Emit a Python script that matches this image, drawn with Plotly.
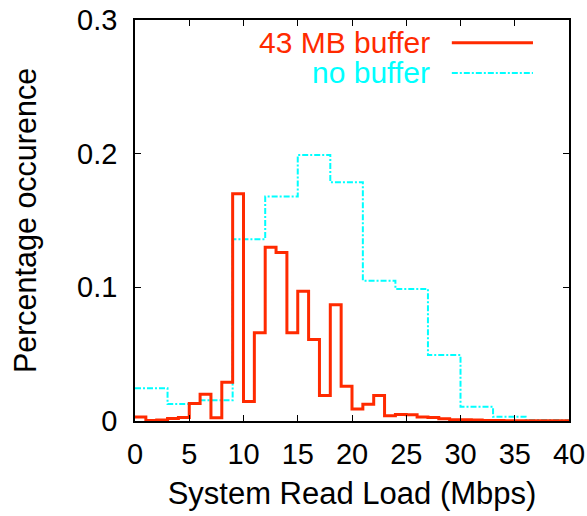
import plotly.graph_objects as go

# 43 MB buffer: 1-Mbps bins from 0 to 40
buf_edges = list(range(0, 41))
buf_vals = [0.003, 0.0003, 0.0008, 0.0018, 0.0027, 0.013, 0.020, 0.0025, 0.029, 0.170,
            0.0145, 0.066, 0.130, 0.126, 0.066, 0.097, 0.061, 0.019, 0.087, 0.026,
            0.009, 0.0125, 0.019, 0.004, 0.0048, 0.0046, 0.003, 0.0027, 0.0017, 0.001,
            0.001, 0.0008, 0.0003, 0.0003, 0.0002, 0.0002, 0.0001, 0.0001, 0.0001, 0.0001]

# no buffer: 3-Mbps bins
nob_edges = [0, 3, 6, 9, 12, 15, 18, 21, 24, 27, 30, 33, 36, 39, 40]
nob_vals = [0.0245, 0.0127, 0.0155, 0.136, 0.168, 0.199, 0.1786, 0.105, 0.0988, 0.0494,
            0.0107, 0.0032, 0.0007, 0.0005]

x_ticks = [0, 5, 10, 15, 20, 25, 30, 35, 40]
y_ticks = [0, 0.1, 0.2, 0.3]
y_tick_labels = ["0", "0.1", "0.2", "0.3"]

series_names = ["43 MB buffer", "no buffer"]
RED = "#ff2a00"
CYAN = "#00ffff"
DASH = "6px,2px,2px,2px"
FONT = "Liberation Sans, Arial, Helvetica, sans-serif"

fig = go.Figure()
fig.add_trace(go.Scatter(
    x=nob_edges, y=nob_vals + [nob_vals[-1]], mode="lines", line_shape="hv",
    line=dict(color=CYAN, width=2, dash=DASH), name=series_names[1],
    showlegend=False))
fig.add_trace(go.Scatter(
    x=buf_edges, y=buf_vals + [buf_vals[-1]], mode="lines", line_shape="hv",
    line=dict(color=RED, width=3), name=series_names[0], showlegend=False))

# gnuplot-style legend: right-aligned text followed by a line sample
legend_rows = [(series_names[0], RED, "solid", 3, 0.943),
               (series_names[1], CYAN, DASH, 2, 0.868)]
for name, col, dash, w, yy in legend_rows:
    fig.add_annotation(x=0.685, y=yy, xref="paper", yref="paper", text=name,
                       showarrow=False, xanchor="right", yanchor="middle",
                       font=dict(family=FONT, size=30, color=col))
    fig.add_shape(type="line", xref="paper", yref="paper", x0=0.730, x1=0.917,
                  y0=yy, y1=yy, line=dict(color=col, width=w, dash=dash))

axis_common = dict(showline=True, linecolor="black", linewidth=1.5, mirror="ticks",
                   ticks="inside", ticklen=6, tickwidth=1.2, tickcolor="black",
                   showgrid=False, zeroline=False, automargin=False,
                   tickfont=dict(family=FONT, size=29, color="black"))

fig.update_xaxes(range=[0, 40], tickvals=x_ticks, ticklabelstandoff=6,
                 title=dict(text="System Read Load (Mbps)", standoff=14,
                            font=dict(family=FONT, size=31, color="black")),
                 **axis_common)
fig.update_yaxes(range=[0, 0.3], tickvals=y_ticks, ticktext=y_tick_labels,
                 ticklabelstandoff=10,
                 title=dict(text="Percentage occurence", standoff=31,
                            font=dict(family=FONT, size=30.5, color="black")),
                 **axis_common)

fig.update_layout(width=587, height=516, margin=dict(l=135, r=18, t=20, b=95),
                  plot_bgcolor="white", paper_bgcolor="white", showlegend=False)

fig.write_html("out.html")
